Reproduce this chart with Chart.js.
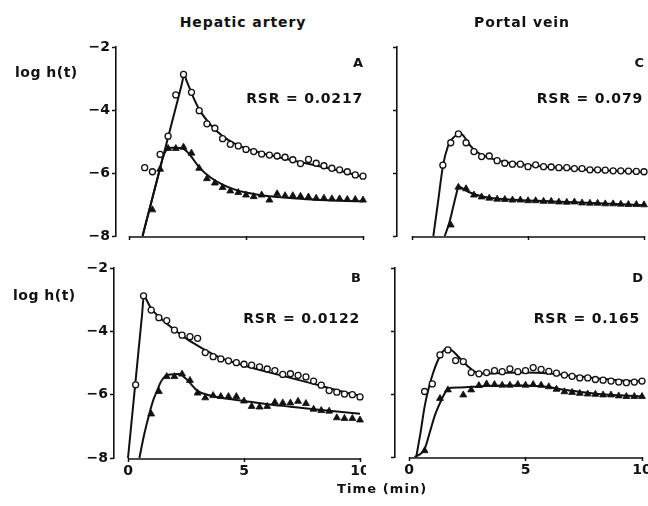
<!DOCTYPE html>
<html><head><meta charset="utf-8">
<script src="https://cdn.jsdelivr.net/npm/chart.js@4.4.0/dist/chart.umd.min.js"></script>
<style>
html,body{margin:0;padding:0;background:#fff;}
#wrap{position:relative;width:648px;height:506px;overflow:hidden;background:#fff;font-family:"DejaVu Sans",sans-serif;font-weight:bold;color:#111;}
canvas{position:absolute;}
.t{position:absolute;font-size:14px;line-height:14px;white-space:nowrap;}
</style></head>
<body><div id="wrap">
<canvas id="cA"></canvas><canvas id="cC"></canvas><canvas id="cB"></canvas><canvas id="cD"></canvas>
<div class="t" style="left:243px;top:15px;transform:translateX(-50%);letter-spacing:0.9px;">Hepatic artery</div>
<div class="t" style="left:522px;top:15px;transform:translateX(-50%);letter-spacing:0.9px;">Portal vein</div>
<div class="t" style="left:15px;top:65px;letter-spacing:0.5px;">log h(t)</div>
<div class="t" style="left:13px;top:288px;letter-spacing:0.5px;">log h(t)</div>
<div class="t" style="right:285px;top:56px;font-size:13px;">A</div>
<div class="t" style="right:4px;top:56px;font-size:13px;">C</div>
<div class="t" style="right:287px;top:271px;font-size:13px;">B</div>
<div class="t" style="right:5px;top:271px;font-size:13px;">D</div>
<div class="t" style="right:285px;top:91px;letter-spacing:0.8px;">RSR = 0.0217</div>
<div class="t" style="right:5px;top:91px;letter-spacing:0.8px;">RSR = 0.079</div>
<div class="t" style="right:288px;top:311px;letter-spacing:0.8px;">RSR = 0.0122</div>
<div class="t" style="right:8px;top:311px;letter-spacing:0.8px;">RSR = 0.165</div>
<div class="t" style="left:337px;top:482px;font-size:13px;letter-spacing:1.1px;">Time (min)</div>
</div>
<script>
// ---- tick values ----
const xTicks = [0, 5, 10];
const yTicks = [-8, -6, -4, -2];

// ---- Panel A: hepatic artery ----
const aCircT = [0.67,1,1.33,1.67,2,2.33,2.67,3,3.33,3.67,4,4.33,4.67,5,5.33,5.67,6,6.33,6.67,7,7.33,7.67,8,8.33,8.67,9,9.33,9.67,10];
const aCircY = [-5.83,-5.96,-5.41,-4.83,-3.52,-2.87,-3.44,-4.02,-4.44,-4.58,-4.91,-5.09,-5.14,-5.25,-5.32,-5.40,-5.43,-5.46,-5.50,-5.58,-5.70,-5.57,-5.69,-5.77,-5.85,-5.90,-5.96,-6.06,-6.10];
const aTriT = [1,1.33,1.67,2,2.33,2.67,3,3.33,3.67,4,4.33,4.67,5,5.33,5.67,6,6.33,6.67,7,7.33,7.67,8,8.33,8.67,9,9.33,9.67,10];
const aTriY = [-7.17,-5.88,-5.22,-5.22,-5.18,-5.37,-5.85,-6.18,-6.32,-6.46,-6.57,-6.62,-6.70,-6.75,-6.70,-6.86,-6.66,-6.72,-6.72,-6.74,-6.76,-6.80,-6.80,-6.82,-6.82,-6.84,-6.84,-6.86];
const aFitCircT = [0.58,1.0,1.5,2.0,2.25,2.36,2.45,2.75,3.0,3.5,4.0,4.5,5.0,6.0,7.0,8.0,9.0,10.0];
const aFitCircY = [-8,-6.79,-5.36,-3.92,-3.2,-2.88,-3.05,-3.6,-3.98,-4.48,-4.83,-5.06,-5.22,-5.43,-5.6,-5.76,-5.93,-6.12];
const aFitTriT = [0.58,1.0,1.3,1.45,1.6,1.8,2.0,2.3,2.6,3.0,3.5,4.0,4.5,5.0,6.0,7.0,8.0,9.0,10.0];
const aFitTriY = [-8,-6.79,-5.93,-5.5,-5.27,-5.2,-5.2,-5.22,-5.42,-5.82,-6.15,-6.37,-6.52,-6.62,-6.74,-6.8,-6.85,-6.88,-6.9];

// ---- Panel C: portal vein ----
const cCircT = [1.33,1.67,2,2.33,2.67,3,3.33,3.67,4,4.33,4.67,5,5.33,5.67,6,6.33,6.67,7,7.33,7.67,8,8.33,8.67,9,9.33,9.67,10];
const cCircY = [-5.75,-5.04,-4.76,-5.04,-5.32,-5.48,-5.46,-5.61,-5.69,-5.72,-5.72,-5.80,-5.74,-5.80,-5.81,-5.83,-5.83,-5.86,-5.86,-5.90,-5.90,-5.91,-5.93,-5.93,-5.94,-5.95,-5.96];
const cTriT = [1.67,2,2.33,2.67,3,3.33,3.67,4,4.33,4.67,5,5.33,5.67,6,6.33,6.67,7,7.33,7.67,8,8.33,8.67,9,9.33,9.67,10];
const cTriY = [-7.65,-6.45,-6.5,-6.7,-6.76,-6.8,-6.83,-6.84,-6.86,-6.86,-6.88,-6.88,-6.9,-6.9,-6.92,-6.93,-6.92,-6.95,-6.96,-6.96,-6.98,-6.98,-6.99,-7.0,-7.0,-7.01];
const cFitCircT = [0.92,1.1,1.34,1.55,1.75,1.95,2.08,2.25,2.5,2.75,3.0,3.5,4.0,5.0,6.0,7.0,8.0,9.0,10.0];
const cFitCircY = [-8,-7.04,-5.75,-5.15,-4.9,-4.78,-4.74,-4.85,-5.12,-5.3,-5.42,-5.56,-5.65,-5.75,-5.82,-5.87,-5.91,-5.94,-5.97];
const cFitTriT = [1.41,1.6,1.8,1.9,2.01,2.2,2.5,3.0,3.5,4.0,5.0,6.0,7.0,8.0,9.0,10.0];
const cFitTriY = [-8,-7.6,-7.0,-6.7,-6.43,-6.5,-6.62,-6.74,-6.8,-6.83,-6.87,-6.9,-6.93,-6.96,-6.99,-7.02];

// ---- Panel B: hepatic artery ----
const bCircT = [0.33,0.67,1,1.33,1.67,2,2.33,2.67,3,3.33,3.67,4,4.33,4.67,5,5.33,5.67,6,6.33,6.67,7,7.33,7.67,8,8.33,8.67,9,9.33,9.67,10];
const bCircY = [-5.69,-2.88,-3.33,-3.57,-3.66,-3.96,-4.12,-4.17,-4.22,-4.67,-4.8,-4.87,-4.93,-4.99,-5.04,-5.07,-5.12,-5.19,-5.24,-5.36,-5.34,-5.39,-5.44,-5.57,-5.7,-5.87,-5.92,-5.98,-6.0,-6.07];
const bTriT = [1,1.33,1.67,2,2.33,2.67,3,3.33,3.67,4,4.33,4.67,5,5.33,5.67,6,6.33,6.67,7,7.33,7.67,8,8.33,8.67,9,9.33,9.67,10];
const bTriY = [-6.61,-5.9,-5.43,-5.43,-5.35,-5.55,-5.95,-6.1,-6.03,-6.06,-6.06,-6.06,-6.2,-6.37,-6.39,-6.37,-6.24,-6.26,-6.26,-6.21,-6.28,-6.46,-6.5,-6.52,-6.73,-6.75,-6.75,-6.8];
const bFitCircT = [0.0,0.3,0.6,0.69,0.78,0.9,1.0,1.5,2.0,2.5,3.0,3.5,4.0,5.0,6.0,7.0,8.0,9.0,10.0];
const bFitCircY = [-8,-5.76,-3.52,-2.85,-2.98,-3.15,-3.28,-3.65,-3.95,-4.22,-4.45,-4.66,-4.84,-5.08,-5.28,-5.47,-5.66,-5.86,-6.04];
const bFitTriT = [0.49,0.7,0.92,1.1,1.24,1.4,1.6,1.8,2.2,2.5,3.0,3.5,4.0,5.0,6.0,7.0,8.0,9.0,10.0];
const bFitTriY = [-8,-7.25,-6.6,-6.15,-5.9,-5.62,-5.42,-5.36,-5.35,-5.5,-5.88,-6.02,-6.1,-6.2,-6.3,-6.38,-6.46,-6.53,-6.6];

// ---- Panel D: portal vein ----
const dCircT = [0.67,1,1.33,1.67,2,2.33,2.67,3,3.33,3.67,4,4.33,4.67,5,5.33,5.67,6,6.33,6.67,7,7.33,7.67,8,8.33,8.67,9,9.33,9.67,10];
const dCircY = [-5.92,-5.68,-4.76,-4.6,-4.94,-4.97,-5.32,-5.36,-5.32,-5.26,-5.29,-5.2,-5.29,-5.26,-5.16,-5.22,-5.28,-5.34,-5.4,-5.44,-5.49,-5.49,-5.54,-5.56,-5.59,-5.62,-5.64,-5.62,-5.59];
const dTriT = [0.67,1.33,1.67,2.33,2.67,3,3.33,3.67,4,4.33,4.67,5,5.33,5.67,6,6.33,6.67,7,7.33,7.67,8,8.33,8.67,9,9.33,9.67,10];
const dTriY = [-7.8,-6.14,-5.87,-6.03,-5.87,-5.73,-5.68,-5.7,-5.72,-5.72,-5.7,-5.72,-5.7,-5.72,-5.77,-5.85,-5.93,-5.95,-5.98,-6.0,-6.01,-6.03,-6.03,-6.06,-6.08,-6.08,-6.08];
const dFitCircT = [0.31,0.5,0.67,0.85,1.03,1.2,1.4,1.67,1.9,2.2,2.5,2.8,3.1,3.5,4.0,5.0,6.0,7.0,8.0,9.0,10.0];
const dFitCircY = [-8,-7.2,-6.4,-5.8,-5.34,-5.0,-4.7,-4.55,-4.65,-4.88,-5.1,-5.28,-5.35,-5.35,-5.33,-5.32,-5.35,-5.42,-5.5,-5.56,-5.6];
const dFitTriT = [0.24,0.5,0.67,0.9,1.1,1.39,1.6,1.8,2.2,3.0,4.0,5.0,6.0,6.5,7.0,8.0,9.0,10.0];
const dFitTriY = [-8,-7.9,-7.75,-7.2,-6.7,-6.19,-5.9,-5.8,-5.79,-5.76,-5.73,-5.73,-5.78,-5.85,-5.9,-5.99,-6.04,-6.08];

// ---- panel placement on page (layout only) ----
const geo = {
  A: {id:'cA', yAxisX:116, x0:129, x10:363, yTop:47,  yBot:236, xLab:false, yLab:true},
  C: {id:'cC', yAxisX:397, x0:412, x10:644, yTop:47,  yBot:236, xLab:false, yLab:false},
  B: {id:'cB', yAxisX:114, x0:128, x10:360, yTop:268, yBot:458, xLab:true,  yLab:true},
  D: {id:'cD', yAxisX:395, x0:409, x10:642, yTop:268, yBot:457, xLab:true,  yLab:false}
};

const INK = '#111';
const FONT = {family:'DejaVu Sans', weight:'bold', size:14};
const pts = (t, y) => t.map((v, i) => ({x: v, y: y[i]}));

const xAxisLine = {
  id: 'xAxisLine',
  afterDraw(chart) {
    const s = chart.scales.x, ctx = chart.ctx, y = chart.chartArea.bottom + 1;
    ctx.save();
    ctx.strokeStyle = INK; ctx.lineWidth = 1.6;
    ctx.beginPath();
    ctx.moveTo(s.getPixelForValue(xTicks[0]), y);
    ctx.lineTo(s.getPixelForValue(xTicks[xTicks.length - 1]), y);
    ctx.stroke();
    ctx.restore();
  }
};

function makePanel(g, circT, circY, triT, triY, fcT, fcY, ftT, ftY) {
  const PL = 70, PT = 10, PR = 6, PB = 30, YW = 40, XH = 20;
  const cv = document.getElementById(g.id);
  const L = g.yAxisX - PL, T = g.yTop - PT;
  const W = g.x10 + PR - L, H = g.yBot + PB - T;
  cv.width = W; cv.height = H;
  cv.style.left = L + 'px'; cv.style.top = T + 'px';
  cv.style.width = W + 'px'; cv.style.height = H + 'px';
  const xmin = -(g.x0 - g.yAxisX) / ((g.x10 - g.x0) / 10);
  const curve = (d) => ({data: d, showLine: true, borderColor: INK, borderWidth: 2, pointRadius: 0,
    cubicInterpolationMode: 'monotone', clip: false, order: 2});
  new Chart(cv, {
    type: 'scatter',
    data: {datasets: [
      curve(pts(fcT, fcY)),
      curve(pts(ftT, ftY)),
      {data: pts(circT, circY), pointStyle: 'circle', pointRadius: 3, borderWidth: 1.3,
        borderColor: INK, backgroundColor: '#fff', clip: false, order: 1},
      {data: pts(triT, triY), pointStyle: 'triangle', pointRadius: 4, borderWidth: 0.8,
        borderColor: INK, backgroundColor: INK, clip: false, order: 1}
    ]},
    options: {
      responsive: false, animation: false, devicePixelRatio: 1,
      layout: {padding: {left: PL - YW, top: PT, right: PR, bottom: PB - XH}},
      plugins: {legend: {display: false}, tooltip: {enabled: false}},
      scales: {
        x: {
          type: 'linear', min: xmin, max: xTicks[xTicks.length - 1],
          afterBuildTicks: s => { s.ticks = xTicks.map(v => ({value: v})); },
          afterFit: s => { s.height = XH; s.paddingLeft = 0; s.paddingRight = 0; },
          border: {display: false},
          grid: {drawOnChartArea: false, drawTicks: true, tickLength: 4, tickColor: INK, tickWidth: 1.5, color: INK},
          ticks: {display: g.xLab, color: INK, font: FONT, padding: 1, maxRotation: 0, autoSkip: false,
            callback: v => String(v)}
        },
        y: {
          type: 'linear', min: yTicks[0], max: yTicks[yTicks.length - 1],
          afterBuildTicks: s => { s.ticks = yTicks.map(v => ({value: v})); },
          afterFit: s => { s.width = YW; s.paddingTop = 0; s.paddingBottom = 0; },
          border: {display: true, color: INK, width: 1.6},
          grid: {drawOnChartArea: false, drawTicks: true, tickLength: 4, tickColor: INK, tickWidth: 1.5, color: INK},
          ticks: {display: g.yLab, color: INK, font: FONT, padding: 2, autoSkip: false,
            callback: v => (v < 0 ? '\u2212' + Math.abs(v) : String(v))}
        }
      }
    },
    plugins: [xAxisLine]
  });
}

makePanel(geo.A, aCircT, aCircY, aTriT, aTriY, aFitCircT, aFitCircY, aFitTriT, aFitTriY);
makePanel(geo.C, cCircT, cCircY, cTriT, cTriY, cFitCircT, cFitCircY, cFitTriT, cFitTriY);
makePanel(geo.B, bCircT, bCircY, bTriT, bTriY, bFitCircT, bFitCircY, bFitTriT, bFitTriY);
makePanel(geo.D, dCircT, dCircY, dTriT, dTriY, dFitCircT, dFitCircY, dFitTriT, dFitTriY);
</script>
</body></html>
